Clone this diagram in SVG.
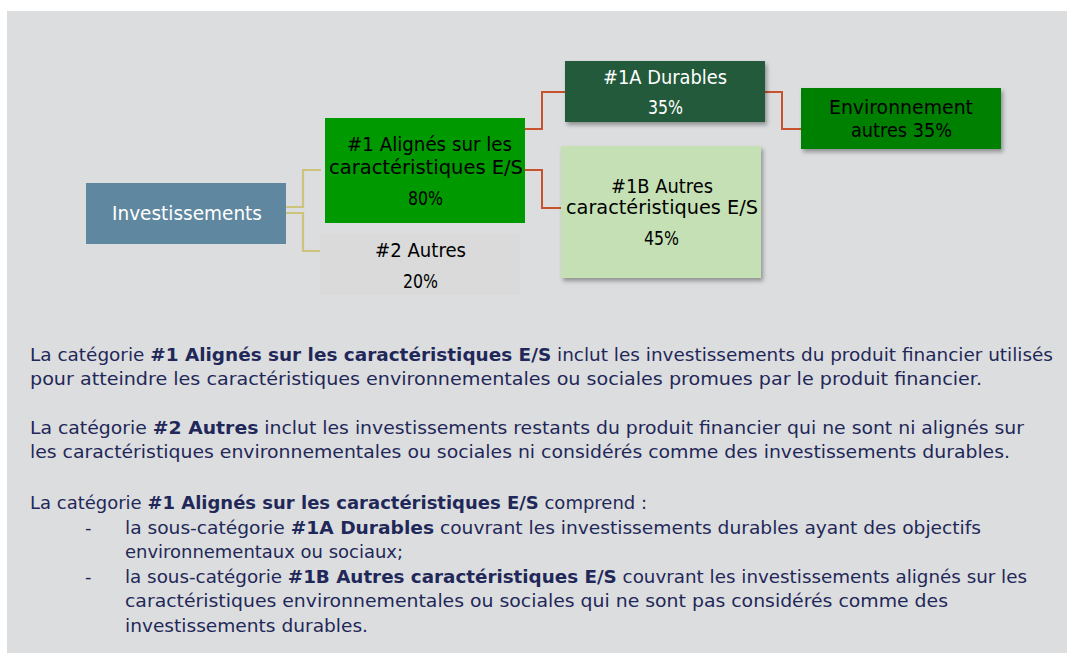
<svg xmlns="http://www.w3.org/2000/svg" width="1067" height="653" viewBox="0 0 1067 653">
<defs>
<style>
.nt{font-family:"DejaVu Sans",sans-serif;font-size:19px;text-anchor:middle}
.bt{font-family:"DejaVu Sans",sans-serif;font-size:18px;fill:#1F2858}
.b{font-weight:bold}
.y{fill:none;stroke:#CEC37C;stroke-width:2.2}
.r{fill:none;stroke:#C8522E;stroke-width:2}
</style>
<filter id="sh" x="-10%" y="-10%" width="125%" height="135%">
<feDropShadow dx="2" dy="3" stdDeviation="2" flood-color="#000" flood-opacity="0.35"/>
</filter>
</defs>
<rect x="0" y="0" width="1067" height="653" fill="#ffffff"/>
<rect x="7" y="11" width="1060" height="642" fill="#DCDDDF"/>
<g id="connectors">
<path class="y" d="M286 207 H303 V170 H321"/>
<path class="y" d="M286 213 H303 V251 H320"/>
<path class="r" d="M525 129 H542 V92 H565"/>
<path class="r" d="M525 170 H542 V208 H561"/>
<path class="r" d="M765 92 H782 V129 H801"/>
</g>
<g id="n-invest">
<rect x="86" y="183" width="200" height="61" fill="#5F87A0"/>
<text class="nt" x="187" y="220" fill="#ffffff" textLength="150" lengthAdjust="spacingAndGlyphs">Investissements</text>
</g>
<g id="n-1">
<rect x="325" y="118" width="200" height="105" fill="#009900"/>
<text class="nt" x="429.5" y="151" fill="#000" textLength="165" lengthAdjust="spacingAndGlyphs">#1 Alignés sur les</text>
<text class="nt" x="426" y="174" fill="#000" textLength="194" lengthAdjust="spacingAndGlyphs">caractéristiques E/S</text>
<text class="nt" x="425.5" y="205" fill="#000" textLength="35" lengthAdjust="spacingAndGlyphs">80%</text>
</g>
<g id="n-2">
<rect x="320" y="234" width="200" height="61" fill="#DADADA"/>
<text class="nt" x="420.5" y="257" fill="#000" textLength="91" lengthAdjust="spacingAndGlyphs">#2 Autres</text>
<text class="nt" x="420.5" y="288" fill="#000" textLength="35" lengthAdjust="spacingAndGlyphs">20%</text>
</g>
<g id="n-1a">
<rect x="565" y="61" width="200" height="61" fill="#245A3B" filter="url(#sh)"/>
<text class="nt" x="665" y="84" fill="#fff" textLength="124" lengthAdjust="spacingAndGlyphs">#1A Durables</text>
<text class="nt" x="665.5" y="114" fill="#fff" textLength="35" lengthAdjust="spacingAndGlyphs">35%</text>
</g>
<g id="n-env">
<rect x="801" y="88" width="200" height="61" fill="#008000" filter="url(#sh)"/>
<text class="nt" x="901" y="114" fill="#000" textLength="144" lengthAdjust="spacingAndGlyphs">Environnement</text>
<text class="nt" x="901.5" y="137" fill="#000" textLength="101" lengthAdjust="spacingAndGlyphs">autres 35%</text>
</g>
<g id="n-1b">
<rect x="561" y="146" width="200" height="132" fill="#C5E0B4" filter="url(#sh)"/>
<text class="nt" x="662" y="193" fill="#000" textLength="102" lengthAdjust="spacingAndGlyphs">#1B Autres</text>
<text class="nt" x="662" y="214" fill="#000" textLength="192" lengthAdjust="spacingAndGlyphs">caractéristiques E/S</text>
<text class="nt" x="661.5" y="245" fill="#000" textLength="35" lengthAdjust="spacingAndGlyphs">45%</text>
</g>
<g id="body">
<text class="bt" x="30" y="361" textLength="1023" lengthAdjust="spacingAndGlyphs">La catégorie <tspan class="b">#1 Alignés sur les caractéristiques E/S</tspan> inclut les investissements du produit financier utilisés</text>
<text class="bt" x="30" y="385" textLength="952" lengthAdjust="spacingAndGlyphs">pour atteindre les caractéristiques environnementales ou sociales promues par le produit financier.</text>
<text class="bt" x="30" y="434" textLength="994" lengthAdjust="spacingAndGlyphs">La catégorie <tspan class="b">#2 Autres</tspan> inclut les investissements restants du produit financier qui ne sont ni alignés sur</text>
<text class="bt" x="30" y="458" textLength="980" lengthAdjust="spacingAndGlyphs">les caractéristiques environnementales ou sociales ni considérés comme des investissements durables.</text>
<text class="bt" x="30" y="509" textLength="617" lengthAdjust="spacingAndGlyphs">La catégorie <tspan class="b">#1 Alignés sur les caractéristiques E/S</tspan> comprend :</text>
<text class="bt" x="85" y="534">-</text>
<text class="bt" x="125" y="534" textLength="856" lengthAdjust="spacingAndGlyphs">la sous-catégorie <tspan class="b">#1A Durables</tspan> couvrant les investissements durables ayant des objectifs</text>
<text class="bt" x="125" y="558" textLength="278" lengthAdjust="spacingAndGlyphs">environnementaux ou sociaux;</text>
<text class="bt" x="85" y="583">-</text>
<text class="bt" x="125" y="583" textLength="902" lengthAdjust="spacingAndGlyphs">la sous-catégorie <tspan class="b">#1B Autres caractéristiques E/S</tspan> couvrant les investissements alignés sur les</text>
<text class="bt" x="125" y="607" textLength="823" lengthAdjust="spacingAndGlyphs">caractéristiques environnementales ou sociales qui ne sont pas considérés comme des</text>
<text class="bt" x="125" y="632" textLength="243" lengthAdjust="spacingAndGlyphs">investissements durables.</text>
</g>
</svg>
